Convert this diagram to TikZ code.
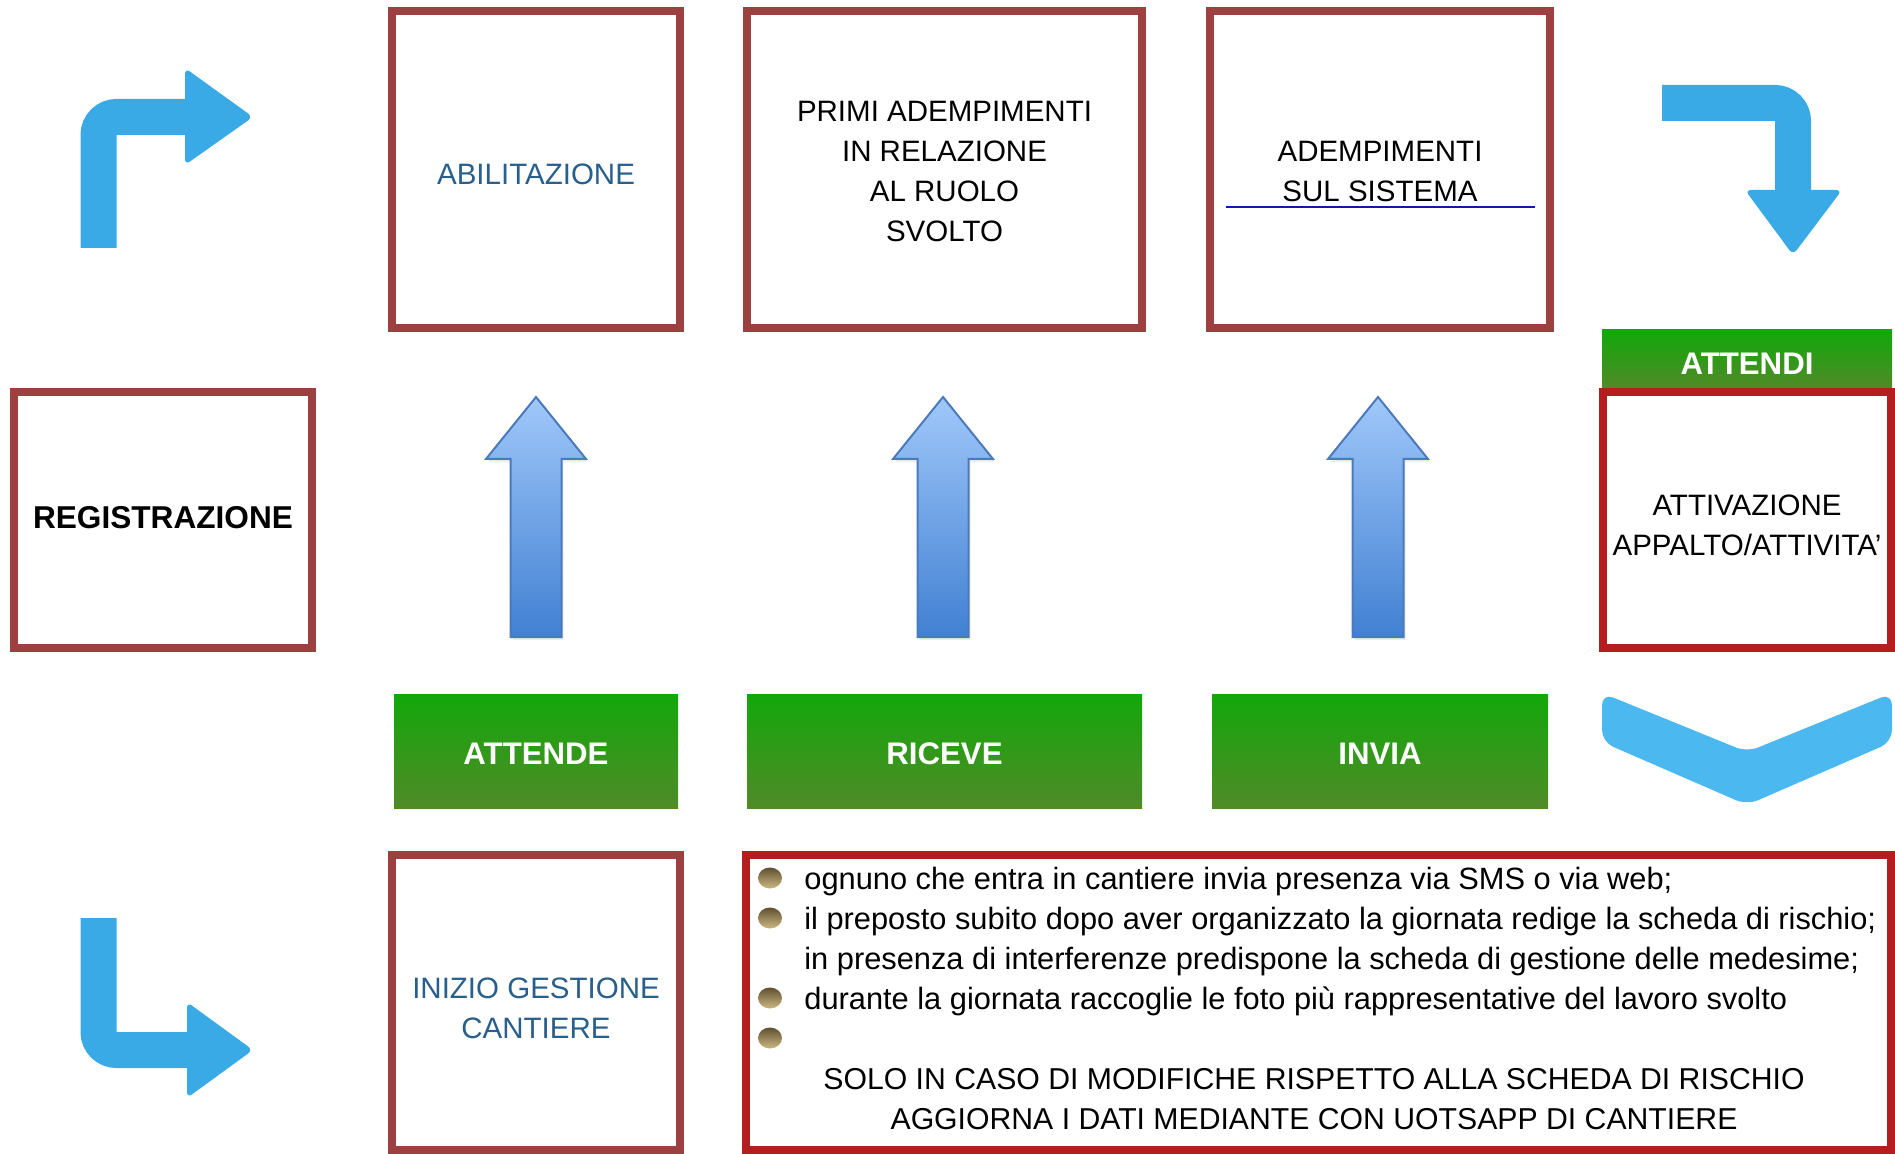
\documentclass[tikz,border=0pt]{standalone}
\usepackage{fontspec}
\setmainfont{Liberation Sans}
\usetikzlibrary{shadows}

\definecolor{boxred}{RGB}{157,64,64}
\definecolor{brightred}{RGB}{180,30,30}
\definecolor{greentop}{RGB}{18,168,10}
\definecolor{greenbot}{RGB}{80,138,40}
\definecolor{turnblue}{RGB}{58,170,230}
\definecolor{chevblue}{RGB}{75,185,240}
\definecolor{uptop}{RGB}{160,200,250}
\definecolor{upbot}{RGB}{65,128,210}
\definecolor{upline}{RGB}{75,122,188}
\definecolor{labelblue}{RGB}{40,95,140}
\definecolor{lineblue}{RGB}{20,20,190}
\definecolor{dotdark}{RGB}{95,80,48}
\definecolor{dotlight}{RGB}{205,185,130}

\tikzset{
  stepbox/.style={draw=boxred, line width=4pt, fill=white, inner sep=0pt},
  redbox/.style={stepbox, draw=brightred},
  boxtext/.style={inner sep=0pt, align=center, font=\fontsize{14.75}{20}\selectfont},
  greenbar/.style={top color=greentop, bottom color=greenbot, inner sep=0pt},
  bartext/.style={inner sep=0pt, text=white, font=\bfseries\fontsize{15.6}{20}\selectfont},
  bigarrow/.style={draw=upline, line width=1pt, top color=uptop, bottom color=upbot,
    drop shadow={opacity=0.15, shadow xshift=1pt, shadow yshift=-1.5pt}},
  turn/.style={turnblue, line width=18pt, rounded corners=9pt},
  tip/.style={turnblue, rounded corners=3pt},
  textline/.style={anchor=base west, inner sep=0pt, font=\fontsize{15.4}{20}\selectfont},
  dot/.style={top color=dotdark, bottom color=dotlight}
}

\begin{document}
\begin{tikzpicture}[x=0.5pt,y=-0.5pt]
    \useasboundingbox (0,0) rectangle (1895,1154);

    % turning arrows
    \draw[turn] (98.5,248) -- (98.5,117) -- (190,117);
    \fill[tip] (185,68) -- (253,117) -- (185,165) -- cycle;
    \draw[turn] (1662,103) -- (1793,103) -- (1793,195);
    \fill[tip] (1745,190) -- (1842,190) -- (1793,255) -- cycle;
    \draw[turn] (98.5,918) -- (98.5,1050) -- (190,1050);
    \fill[tip] (187,1002) -- (253,1050) -- (187,1098) -- cycle;
    \fill[chevblue, rounded corners=6pt] (1602,693) -- (1747,752) -- (1892,693)
        -- (1892,742) -- (1747,805) -- (1602,742) -- cycle;

    % top row
    \node[stepbox, minimum width=144pt, minimum height=158.5pt] (abil) at (536,169.5) {};
    \node[boxtext, text=labelblue] (abiltext) at ([yshift=-2.5pt]abil.center) {ABILITAZIONE};
    \node[stepbox, minimum width=197.5pt, minimum height=158.5pt] (primi) at (944.5,169.5) {};
    \node[boxtext] (primitext) at ([yshift=-1pt]primi.center)
        {PRIMI ADEMPIMENTI\\IN RELAZIONE\\AL RUOLO\\SVOLTO};
    \node[stepbox, minimum width=170pt, minimum height=158.5pt] (adem) at (1380,169.5) {};
    \node[boxtext] (ademtext) at ([yshift=-1.2pt]adem.center) {ADEMPIMENTI\\SUL SISTEMA};
    \draw[lineblue, line width=1pt] (1226,207) -- (1535,207);

    % middle row
    \node[stepbox, minimum width=149pt, minimum height=128pt] (reg) at (163,520) {};
    \node[boxtext, font=\bfseries\fontsize{15.8}{20}\selectfont] (regtext) at ([yshift=1.2pt]reg.center) {REGISTRAZIONE};
    \node[greenbar, minimum width=145pt, minimum height=29pt] (attendi) at (1747,359) {};
    \node[bartext] (attenditext) at ([yshift=-2.2pt]attendi.center) {ATTENDI};
    \node[redbox, minimum width=144pt, minimum height=128pt] (attiv) at (1747,520) {};
    \node[boxtext] (attivtext) at ([yshift=-2.5pt]attiv.center) {ATTIVAZIONE\\APPALTO/ATTIVITA’};

    \foreach \cx in {536,943,1378}
        \path[bigarrow] (\cx,397) -- (\cx+50,459) -- (\cx+25.5,459) -- (\cx+25.5,637)
            -- (\cx-25.5,637) -- (\cx-25.5,459) -- (\cx-50,459) -- cycle;

    \foreach \name/\cx/\w/\lbl in {attende/536/142/ATTENDE, riceve/944.5/197.5/RICEVE, invia/1380/168/INVIA}{
        \node[greenbar, minimum width=\w pt, minimum height=57pt] (\name) at (\cx,751) {};
        \node[bartext] (\name text) at ([yshift=-1.2pt]\name.center) {\lbl};
    }

    % bottom row
    \node[stepbox, minimum width=144pt, minimum height=147.5pt] (inizio) at (536,1002.5) {};
    \node[boxtext, text=labelblue] (iniziotext) at ([yshift=-2.8pt]inizio.center) {INIZIO GESTIONE\\CANTIERE};
    \node[redbox, minimum width=572.5pt, minimum height=147.5pt] (notes) at (1318.5,1002.5) {};

    \foreach \i in {1,2,4,5}
        \shade[dot] (770,838+40*\i) ellipse (12 and 10.5);
    \foreach \txt [count=\i] in {{ognuno che entra in cantiere invia presenza via SMS o via web;},
        {il preposto subito dopo aver organizzato la giornata redige la scheda di rischio;},
        {in presenza di interferenze predispone la scheda di gestione delle medesime;},
        {durante la giornata raccoglie le foto più rappresentative del lavoro svolto}}
        \node[textline] (note\i) at (804,849+40*\i) {\txt};
    \node[textline, anchor=base, font=\fontsize{15.1}{20}\selectfont] (solo) at (1314,1089) {SOLO IN CASO DI MODIFICHE RISPETTO ALLA SCHEDA DI RISCHIO};
    \node[textline, anchor=base, font=\fontsize{15.1}{20}\selectfont] (aggiorna) at (1314,1129) {AGGIORNA I DATI MEDIANTE CON UOTSAPP DI CANTIERE};
\end{tikzpicture}
\end{document}
